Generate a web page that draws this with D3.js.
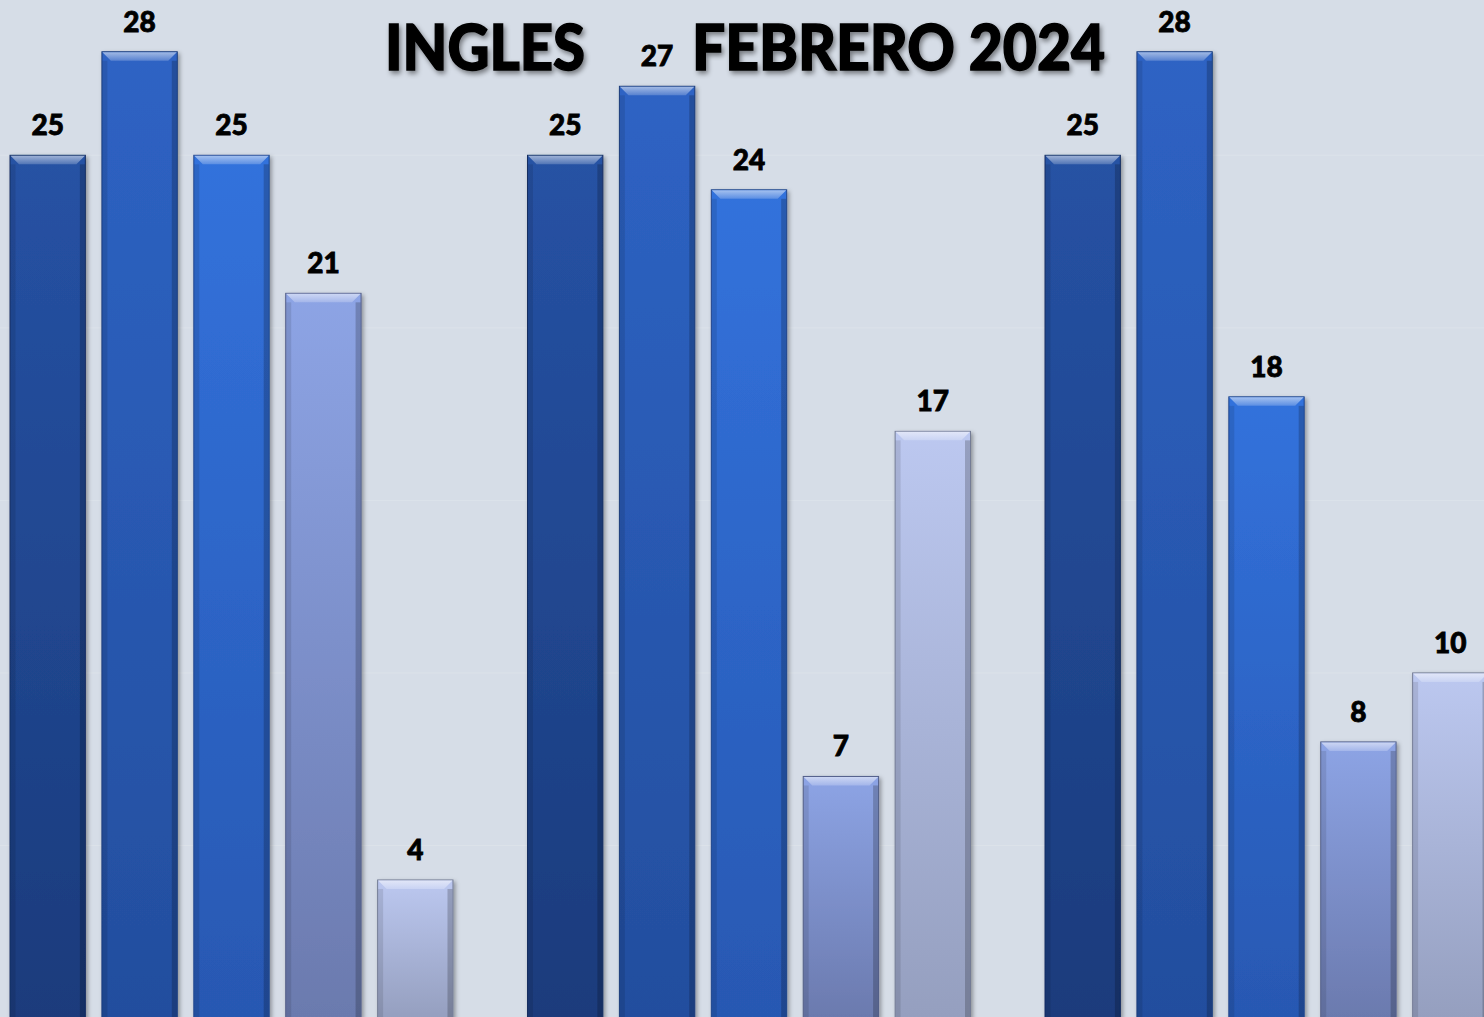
<!DOCTYPE html>
<html>
<head>
<meta charset="utf-8">
<script src="https://cdn.jsdelivr.net/npm/d3@7"></script>
<style>
  html, body { margin: 0; padding: 0; background: #d6dde7; overflow: hidden; }
  svg { display: block; }
</style>
</head>
<body>
<div id="container"></div>
<script>
const groups = ['G1', 'G2', 'G3'];
const series = ['S1', 'S2', 'S3', 'S4', 'S5'];
const values = [
    [25, 28, 25, 21, 4],
    [25, 27, 24, 7, 17],
    [25, 28, 18, 8, 10]
];
const gridTicks = [5, 10, 15, 20, 25];
const titleLeft = 'INGLES';
const titleRight = 'FEBRERO 2024';

// top / bottom colours of each series
const colorTop = ['#2652a4', '#2e63c4', '#3272dc', '#8da4e5', '#bcc8f0'];
const colorBottom = ['#1b3b7c', '#234e9e', '#2858b2', '#6b7aae', '#959fbf'];

const width = 1484, height = 1017;

const task = () => {
    const data = [];
    values.forEach((row, gi) => {
        row.forEach((v, si) => data.push({ group: groups[gi], series: series[si], si: si, value: v }));
    });

    const svg = d3.select('#container')
        .append('svg')
        .attr('width', width)
        .attr('height', height);

    const defs = svg.append('defs');
    series.forEach((s, i) => {
        const g = defs.append('linearGradient')
            .attr('id', 'grad' + i)
            .attr('x1', 0).attr('y1', 0).attr('x2', 0).attr('y2', 1);
        g.append('stop').attr('offset', '0%').attr('stop-color', colorTop[i]);
        g.append('stop').attr('offset', '100%').attr('stop-color', colorBottom[i]);

        const b = defs.append('linearGradient')
            .attr('id', 'bev' + i)
            .attr('x1', 0).attr('y1', 0).attr('x2', 0).attr('y2', 1);
        b.append('stop').attr('offset', '0%').attr('stop-color', d3.interpolateRgb(colorTop[i], '#ffffff')(0.55));
        b.append('stop').attr('offset', '100%').attr('stop-color', d3.interpolateRgb(colorTop[i], '#ffffff')(0.2));
    });
    const shadow = defs.append('filter').attr('id', 'shadow')
        .attr('x', '-10%').attr('y', '-10%').attr('width', '130%').attr('height', '130%');
    shadow.append('feDropShadow')
        .attr('dx', 2).attr('dy', 2).attr('stdDeviation', 2)
        .attr('flood-color', '#000').attr('flood-opacity', 0.35);
    const tshadow = defs.append('filter').attr('id', 'tshadow')
        .attr('x', '-10%').attr('y', '-20%').attr('width', '120%').attr('height', '150%');
    tshadow.append('feDropShadow')
        .attr('dx', 2).attr('dy', 3).attr('stdDeviation', 2.5)
        .attr('flood-color', '#000').attr('flood-opacity', 0.45);

    svg.append('rect')
        .attr('width', width).attr('height', height)
        .attr('fill', '#d6dde7');

    const xGroup = d3.scaleBand().domain(groups).range([10, 1488]).paddingInner(0.144).paddingOuter(0);
    const xBar = d3.scaleBand().domain(series).range([0, xGroup.bandwidth()]).paddingInner(0.18).paddingOuter(0);
    const y = d3.scaleLinear().domain([0, 29.5]).range([1018, 0]);

    // faint gridlines
    svg.append('g')
        .selectAll('line')
        .data(gridTicks)
        .enter()
        .append('line')
            .attr('x1', 0).attr('x2', width)
            .attr('y1', d => y(d)).attr('y2', d => y(d))
            .attr('stroke', '#dce2ea')
            .attr('stroke-width', 1);

    const bw = xBar.bandwidth();
    const bev = 9;

    const bars = svg.append('g').attr('class', 'bars')
        .selectAll('g')
        .data(data)
        .enter()
        .append('g')
            .attr('transform', d => 'translate(' + (xGroup(d.group) + xBar(d.series)) + ',0)');

    bars.append('rect')
        .attr('x', 0)
        .attr('y', d => y(d.value))
        .attr('width', bw)
        .attr('height', d => y(0) - y(d.value))
        .attr('fill', d => 'url(#grad' + d.si + ')')
        .attr('stroke', d => d3.color(colorBottom[d.si]).darker(0.7))
        .attr('stroke-width', 1)
        .attr('filter', 'url(#shadow)');

    // side shading
    bars.append('rect')
        .attr('x', 0.5)
        .attr('y', d => y(d.value) + bev)
        .attr('width', 5)
        .attr('height', d => y(0) - y(d.value) - bev)
        .attr('fill', '#000').attr('opacity', 0.1);
    bars.append('rect')
        .attr('x', bw - 5.5)
        .attr('y', d => y(d.value) + bev)
        .attr('width', 5)
        .attr('height', d => y(0) - y(d.value) - bev)
        .attr('fill', '#000').attr('opacity', 0.2);

    // top bevel
    bars.append('polygon')
        .attr('points', d => {
            const t = y(d.value);
            return [[0.5, t + 0.5], [bw - 0.5, t + 0.5], [bw - bev, t + bev], [bev, t + bev]].join(' ');
        })
        .attr('fill', d => 'url(#bev' + d.si + ')');

    // value labels
    bars.append('text')
        .attr('x', bw / 2)
        .attr('y', d => y(d.value) - 20)
        .attr('text-anchor', 'middle')
        .style('font-family', 'Lato, "Open Sans", sans-serif')
        .style('font-weight', '900')
        .style('font-size', '28px')
        .style('fill', '#000')
        .style('stroke', '#000')
        .style('stroke-width', '0.8px')
        .text(d => d.value);

    // title
    const title = svg.append('g').attr('filter', 'url(#tshadow)');
    title.append('text')
        .attr('x', 385).attr('y', 70)
        .attr('textLength', 200).attr('lengthAdjust', 'spacingAndGlyphs')
        .style('font-family', 'Lato, "Open Sans", sans-serif')
        .style('font-weight', '900')
        .style('font-size', '62px')
        .style('fill', '#000')
        .style('stroke', '#000')
        .style('stroke-width', '1.4px')
        .text(titleLeft);
    title.append('text')
        .attr('x', 692).attr('y', 70)
        .attr('textLength', 413).attr('lengthAdjust', 'spacingAndGlyphs')
        .style('font-family', 'Lato, "Open Sans", sans-serif')
        .style('font-weight', '900')
        .style('font-size', '62px')
        .style('fill', '#000')
        .style('stroke', '#000')
        .style('stroke-width', '1.4px')
        .text(titleRight);
};

task();
</script>
</body>
</html>
